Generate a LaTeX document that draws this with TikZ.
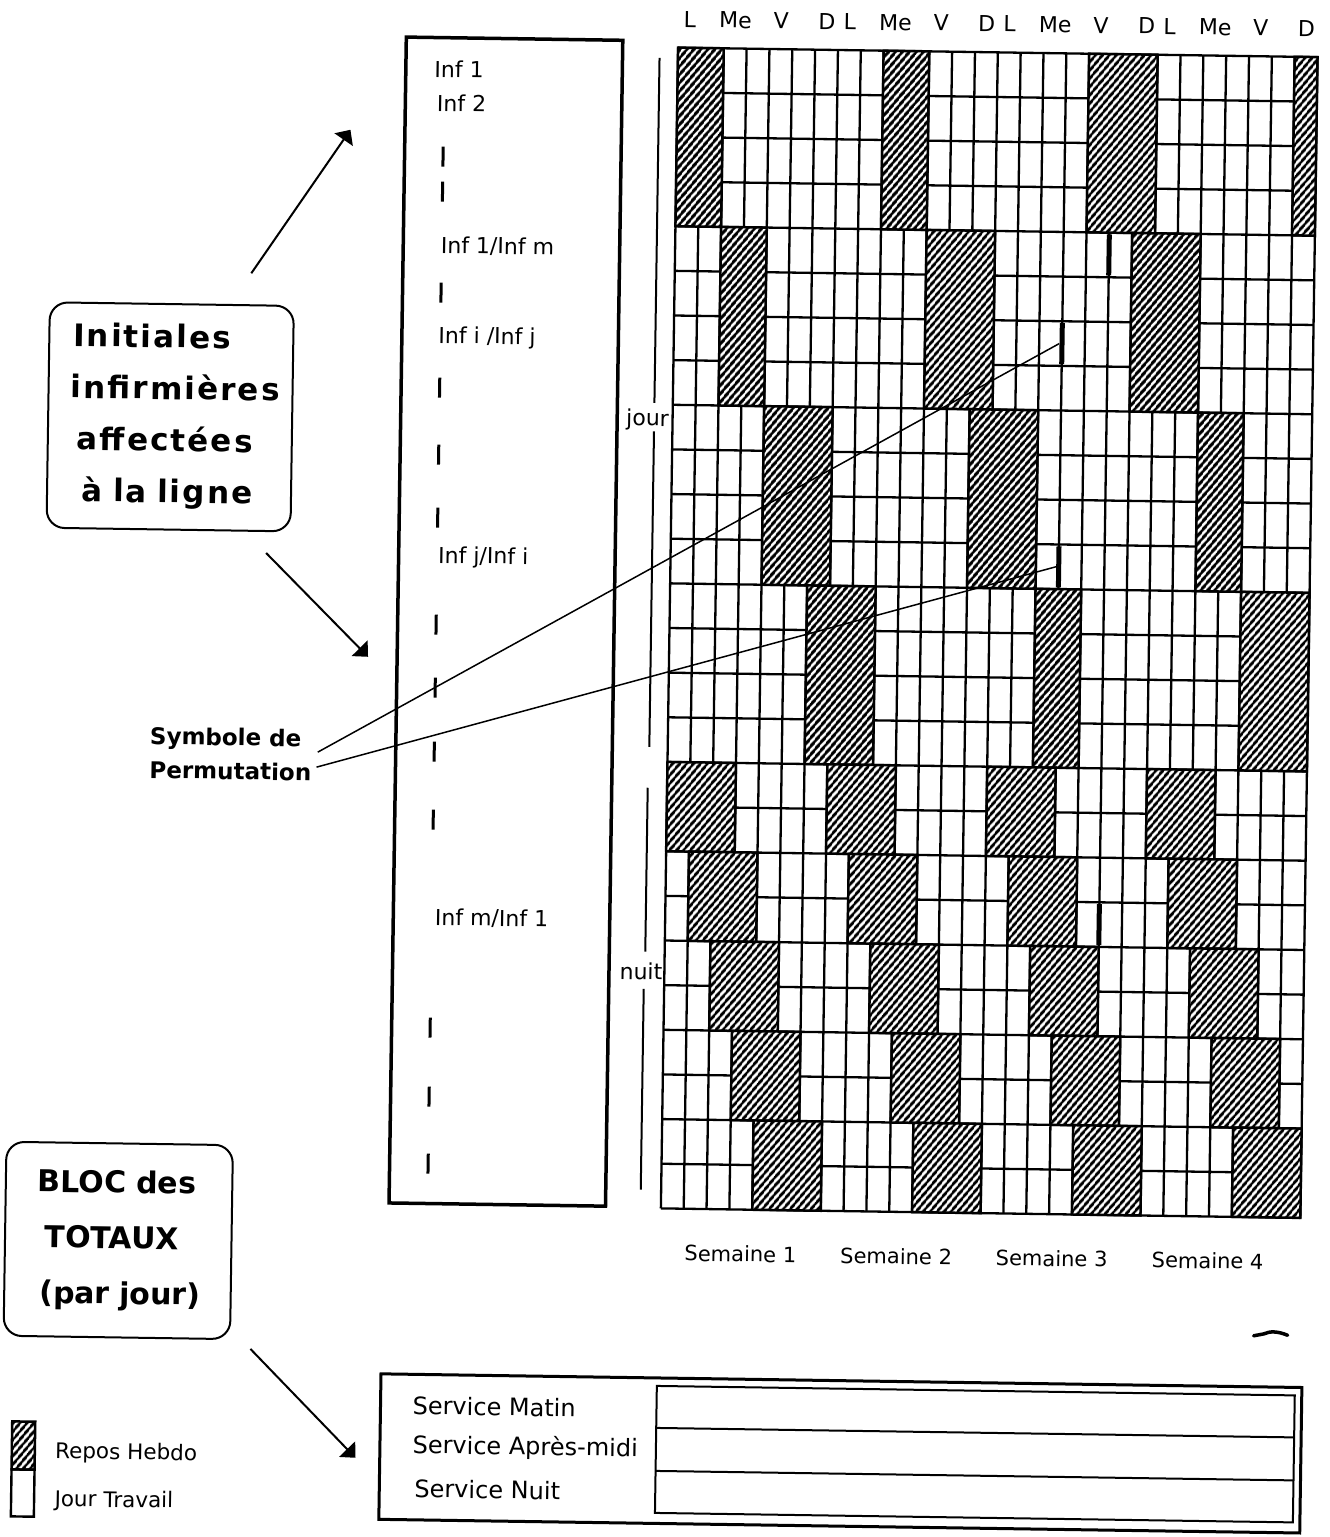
\documentclass[tikz,border=0pt]{standalone}
\usepackage{fontspec}
\setmainfont{DejaVu Sans}
\newfontfamily\calloutfont[LetterSpace=7]{DejaVu Sans}
\usetikzlibrary{patterns.meta,arrows.meta,calc}
\newcommand\gsize[1]{\fontsize{#1bp}{#1bp}\selectfont}
\begin{document}
\begin{tikzpicture}[x=1bp,y=-1bp,
  lbl/.style={inner sep=0pt, font=\gsize{22}, text height=16bp, text depth=0bp},
  gridline/.style={line width=2.3bp, draw=black},
  hatchblk/.style={preaction={fill=white}, pattern={Lines[angle=50,distance=5.2bp,line width=2.9bp]}, draw=black, line width=2.5bp},
  permbar/.style={fill=black, inner sep=0pt, minimum width=5bp, minimum height=41bp},
  infbar/.style={line width=3bp},
  railline/.style={line width=2bp},
  callout/.style={draw, line width=2bp, rounded corners=18bp, align=left},
  arr/.style={line width=2bp, -{Triangle[length=12bp,width=22bp]}},
  pline/.style={line width=1.5bp},
  boxline/.style={line width=2bp},
]
\fill[white] (0,0) rectangle (1330,1537);
\useasboundingbox (0,0) rectangle (1330,1537);
\begin{scope}[transform canvas={rotate around={-0.85:(665,768)}}]
\def\gridx{667.4}\def\gridy{47.5}\def\cellw{22.84}\def\rowh{44.65}
% grid
\foreach \c in {0,...,28} \draw[gridline] ({\gridx+\c*\cellw},\gridy) -- ({\gridx+\c*\cellw},{\gridy+26*\rowh});
\foreach \r in {0,...,26} \draw[gridline] (\gridx,{\gridy+\r*\rowh}) -- ({\gridx+28*\cellw},{\gridy+\r*\rowh});
% rest days (hatched)
\foreach \r/\n/\c/\m in {0/4/0/2, 0/4/9/2, 0/4/18/3, 0/4/27/1,
  4/4/2/2, 4/4/11/3, 4/4/20/3,
  8/4/4/3, 8/4/13/3, 8/4/23/2,
  12/4/6/3, 12/4/16/2, 12/4/25/3,
  16/2/0/3, 16/2/7/3, 16/2/14/3, 16/2/21/3,
  18/2/1/3, 18/2/8/3, 18/2/15/3, 18/2/22/3,
  20/2/2/3, 20/2/9/3, 20/2/16/3, 20/2/23/3,
  22/2/3/3, 22/2/10/3, 22/2/17/3, 22/2/24/3,
  24/2/4/3, 24/2/11/3, 24/2/18/3, 24/2/25/3}
  \path[hatchblk] ({\gridx+\c*\cellw},{\gridy+\r*\rowh}) rectangle ({\gridx+(\c+\m)*\cellw},{\gridy+(\r+\n)*\rowh});
% permutation bars
\node[permbar] (b1) at ({\gridx+19*\cellw},{\gridy+4.5*\rowh}) {};
\node[permbar] (b2) at ({\gridx+17*\cellw},{\gridy+6.5*\rowh}) {};
\node[permbar] (b3) at ({\gridx+17*\cellw},{\gridy+11.5*\rowh}) {};
\node[permbar] (b4) at ({\gridx+19*\cellw},{\gridy+19.5*\rowh}) {};
% day labels
\foreach \c/\t in {0/L,2/Me,4/V,6/D,7/L,9/Me,11/V,13/D,14/L,16/Me,18/V,20/D,21/L,23/Me,25/V,27/D}
  \node[lbl] (day\c) at ({\gridx+(\c+0.5)*\cellw},19) {\t};
% week labels
\node[lbl, font=\gsize{21}] (sem1) at (747.6,1252.5) {Semaine 1};
\node[lbl, font=\gsize{21}] (sem2) at (903.4,1252.5) {Semaine 2};
\node[lbl, font=\gsize{21}] (sem3) at (1058.9,1252.5) {Semaine 3};
\node[lbl, font=\gsize{21}] (sem4) at (1214.9,1252.5) {Semaine 4};
% jour / nuit rails
\node[lbl] (jour) at (642.4,418.3) {jour};
\node[lbl] (nuit) at (644,972) {nuit};
\coordinate (jtop) at (649,58);
\coordinate (jbot) at (649,747);
\coordinate (ntop) at (648,788);
\coordinate (nbot) at (647,1190);
\draw[railline, shorten >=7bp] (jtop) -- (jtop |- jour.north);
\draw[railline, shorten <=5bp] (jbot |- jour.south) -- (jbot);
\draw[railline, shorten >=12bp] (ntop) -- (ntop |- nuit.north);
\draw[railline, shorten <=9bp] (nbot |- nuit.south) -- (nbot);
% nurse box
\node[draw, line width=3.5bp, minimum width=216.5bp, minimum height=1166bp, inner sep=0pt] (infbox) at (503.75,624) {};
\node[lbl, anchor=west] (inf1) at (424,72.5) {Inf 1};
\node[lbl, anchor=west] (inf2) at (427,106.5) {Inf 2};
\node[lbl, anchor=west] (inflm) at (433,248.5) {Inf 1/Inf m};
\node[lbl, anchor=west] (infij) at (432,338.5) {Inf i /Inf j};
\node[lbl, anchor=west] (infji) at (435,558.5) {Inf j/Inf i};
\node[lbl, anchor=west] (infml) at (437,920.5) {Inf m/Inf 1};
\foreach \y in {160,195,296,391,458,521,628,691,755,823,1031,1100,1167}
  \draw[infbar] (434,{\y-10}) -- (434,{\y+10});
% permutation label and lines
\node[inner sep=0pt, font=\bfseries\fontsize{23bp}{34bp}\selectfont, align=left] (perm) at (230.5,760.3) {Symbole de\\Permutation};
\draw[pline] ($(perm.east)+(6,-3)$) -- (b2.west);
\draw[pline] ($(perm.east)+(5,12)$) -- (b3.west);
% callouts
\node[callout, font=\calloutfont\bfseries\fontsize{31bp}{51.6bp}\selectfont, text width=204bp, inner xsep=20bp, minimum height=225.5bp] (init) at (165,424.2)
  {\mbox{\hspace*{4bp}Initiales}\\\mbox{\hspace*{2bp}infirmières}\\\mbox{\hspace*{9bp}affectées}\\\mbox{\hspace*{15bp}à la ligne}};
\node[callout, font=\bfseries\fontsize{30bp}{55.5bp}\selectfont, text width=178bp, inner xsep=24.25bp, minimum height=194bp] (bloc) at (125.3,1248.5)
  {\mbox{\hspace*{8bp}BLOC des}\\\mbox{\hspace*{15.5bp}TOTAUX}\\\mbox{\hspace*{11bp}(par jour)}};
\coordinate (a1e) at (341,134.5);
\coordinate (a2e) at (366.4,661.2);
\coordinate (a3e) at (365.7,1462.3);
\draw[arr] ($(init.north east)+(-44,-31)$) -- (a1e);
\draw[arr] ($(init.south east)+(-25,21)$) -- (a2e);
\draw[arr] ($(bloc.south east)+(19.5,8.5)$) -- (a3e);
% legend
\path[hatchblk] (22,1431) rectangle (45,1479);
\draw[gridline, line width=2.4bp] (22,1479) rectangle (45,1526);
\node[lbl, anchor=west, font=\gsize{21.5}] (lrepos) at (65.2,1459.3) {Repos Hebdo};
\node[lbl, anchor=west, font=\gsize{21.5}] (ljour) at (65.3,1507.3) {Jour Travail};
% totals block
\node[draw, line width=3bp, minimum width=921bp, minimum height=145.5bp, inner sep=0pt] (totals) at (850.5,1450.75) {};
\node[draw, boxline, minimum width=638bp, minimum height=127bp, inner sep=0pt] (totin) at (985,1449.5) {};
\draw[boxline] (666,1428) -- (1304,1428);
\draw[boxline] (666,1471) -- (1304,1471);
\node[lbl, anchor=west, font=\gsize{24}] (smatin) at (422,1410) {Service Matin};
\node[lbl, anchor=west, font=\gsize{24}] (sapres) at (422.5,1449) {Service Après-midi};
\node[lbl, anchor=west, font=\gsize{24}] (snuit) at (425,1493) {Service Nuit};
\draw[line width=3.5bp, line cap=round] (1262,1327) -- (1272,1325) .. controls (1278,1322) and (1286,1322) .. (1296,1326);
\end{scope}
\end{tikzpicture}
\end{document}
